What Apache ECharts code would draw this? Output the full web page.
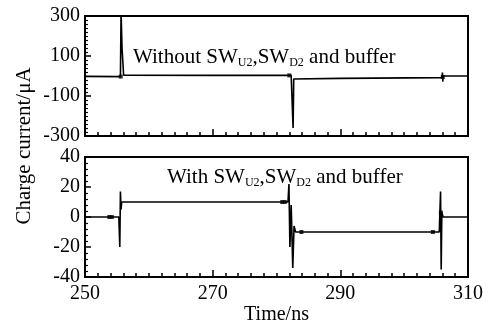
<!DOCTYPE html>
<html>
<head>
<meta charset="utf-8">
<script src="https://cdn.jsdelivr.net/npm/echarts@6/dist/echarts.min.js"></script>
<style>
  html, body { margin: 0; padding: 0; background: #fff; }
  #chart { width: 492px; height: 326px; }
</style>
</head>
<body>
<div id="chart"></div>
<script>
// time axis (ns)
var xTicks = [250, 270, 290, 310];
var topTicks = [-300, -100, 100, 300];
var botTicks = [-40, -20, 0, 20, 40];

// upper trace: without SW_U2, SW_D2 and buffer
var topTime = [250, 255.55, 255.65, 255.75, 255.8, 255.85, 255.95, 256.05, 270, 282.3, 282.5, 282.6, 282.7, 290, 305.9, 306.0, 306.05, 306.1, 306.2, 310];
var topVal  = [-2, -3, 320, 320, 140, 130, 60, 4, 3, 3, 3, -260, -15, -12, -8, 17, -28, 0, 0, 0];

// lower trace: with SW_U2, SW_D2 and buffer
var botTime = [250, 255.3, 255.45, 255.55, 255.65, 255.75, 256.0, 270, 281.8, 281.95, 282.1, 282.3, 282.55, 282.75, 283.0, 295, 305.5, 305.7, 305.8, 305.9, 306.1, 310];
var botVal  = [0, 0, -20, 17, 5, 10, 10, 10, 10, 22, -20, 8, -34, -6, -10, -10, -10, 17, -35, 3, 0, 0];

// little marker dots on the traces
var topMarkT = [255.6, 282.0, 306.05];
var topMarkV = [-3, 3, -5];
var botMarkT = [253.8, 254.2, 280.9, 281.3, 283.9, 304.5, 305.75];
var botMarkV = [0, 0, 10, 10, -10, -10, 3];

function pairs(t, v) {
  return t.map(function (x, i) { return [x, v[i]]; });
}

var serif = '"Liberation Serif", "DejaVu Serif", serif';
var chart = echarts.init(document.getElementById('chart'));

function xAxis(grid, labels) {
  return {
    type: 'value', gridIndex: grid, min: xTicks[0], max: xTicks[xTicks.length - 1], interval: 20,
    axisLine: { show: true, onZero: false, lineStyle: { color: '#000', width: 2 } },
    axisTick: { show: true, inside: true, length: 7, lineStyle: { color: '#000', width: 1.5 } },
    minorTick: { show: true, splitNumber: 10, length: 4, lineStyle: { color: '#000', width: 1.5 } },
    splitLine: { show: false },
    axisLabel: { show: labels, color: '#000', fontFamily: serif, fontSize: 20, margin: 7 },
    name: labels ? 'Time/ns' : '', nameLocation: 'middle', nameGap: 28,
    nameTextStyle: { color: '#000', fontFamily: serif, fontSize: 20 }
  };
}

function yAxis(grid, ticks, minorSplit) {
  return {
    type: 'value', gridIndex: grid, min: ticks[0], max: ticks[ticks.length - 1],
    interval: ticks[1] - ticks[0],
    axisLine: { show: true, onZero: false, lineStyle: { color: '#000', width: 2 } },
    axisTick: { show: true, inside: true, length: 6, lineStyle: { color: '#000', width: 1.5 } },
    minorTick: { show: true, splitNumber: minorSplit, length: 3, lineStyle: { color: '#000', width: 1.2 } },
    splitLine: { show: false },
    axisLabel: { color: '#000', fontFamily: serif, fontSize: 20, margin: 5 }
  };
}

function line(idx, t, v) {
  return {
    type: 'line', xAxisIndex: idx, yAxisIndex: idx, data: pairs(t, v),
    showSymbol: false, symbol: 'none', animation: false, clip: true,
    lineStyle: { color: '#000', width: 1.6 }
  };
}

function dots(idx, t, v) {
  return {
    type: 'scatter', xAxisIndex: idx, yAxisIndex: idx, data: pairs(t, v),
    symbol: 'rect', symbolSize: 4, animation: false,
    itemStyle: { color: '#000' }
  };
}

var rich = {
  n: { fontFamily: serif, fontSize: 21, lineHeight: 24, fill: '#000', color: '#000', verticalAlign: 'middle' },
  s: { fontFamily: serif, fontSize: 12, lineHeight: 12, fill: '#000', color: '#000', verticalAlign: 'bottom' }
};

chart.setOption({
  animation: false,
  backgroundColor: '#fff',
  grid: [
    { left: 85, top: 16, width: 383, height: 120, show: true, borderColor: '#000', borderWidth: 2 },
    { left: 85, top: 157, width: 383, height: 120, show: true, borderColor: '#000', borderWidth: 2 }
  ],
  xAxis: [xAxis(0, false), xAxis(1, true)],
  yAxis: [yAxis(0, topTicks, 10), yAxis(1, botTicks, 5)],
  series: [
    line(0, topTime, topVal),
    line(1, botTime, botVal),
    dots(0, topMarkT, topMarkV),
    dots(1, botMarkT, botMarkV)
  ],
  graphic: [
    {
      type: 'text', x: 24, y: 146, rotation: Math.PI / 2,
      style: { text: 'Charge current/\u03bcA', font: '21px ' + serif, fill: '#000', align: 'center', verticalAlign: 'middle' }
    },
    {
      type: 'text', x: 133, y: 57,
      style: { text: '{n|Without SW}{s|U2}{n|,SW}{s|D2}{n| and buffer}', rich: rich, fill: '#000', align: 'left', verticalAlign: 'middle' }
    },
    {
      type: 'text', x: 167, y: 177,
      style: { text: '{n|With SW}{s|U2}{n|,SW}{s|D2}{n| and buffer}', rich: rich, fill: '#000', align: 'left', verticalAlign: 'middle' }
    }
  ]
});
</script>
</body>
</html>
